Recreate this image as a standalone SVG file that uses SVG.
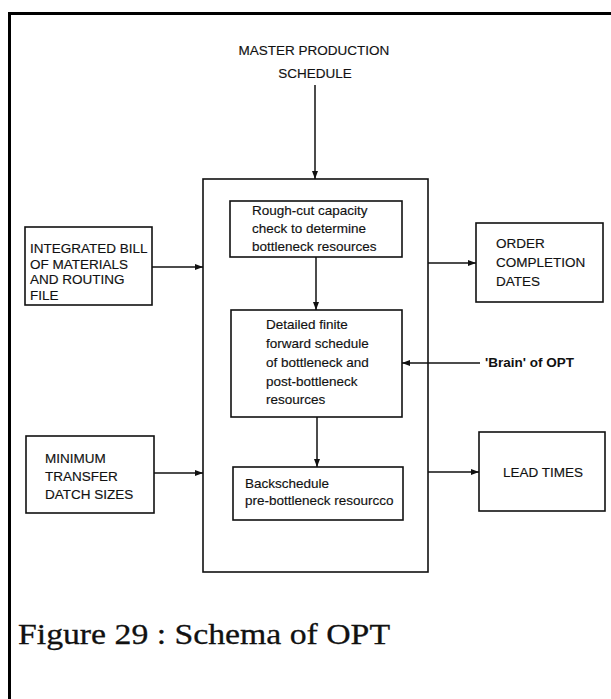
<svg xmlns="http://www.w3.org/2000/svg" width="611" height="699" viewBox="0 0 611 699">
  <style>
    .box { fill: #fff; stroke: #111; stroke-width: 1.6; }
    .frame { fill: none; stroke: #000; stroke-width: 3; }
    .t { font-family: "Liberation Sans", Arial, sans-serif; font-size: 13.5px; fill: #111; stroke: #111; stroke-width: 0.15; }
    .tb { font-family: "Liberation Sans", Arial, sans-serif; font-size: 13.5px; font-weight: bold; fill: #111; }
    .cap { font-family: "Liberation Serif", "Times New Roman", serif; font-size: 30px; fill: #111; stroke: #111; stroke-width: 0.3; }
    .conn line { stroke: #111; stroke-width: 1.5; marker-end: url(#arrow); }
  </style>
  <defs>
    <marker id="arrow" markerUnits="userSpaceOnUse" markerWidth="9" markerHeight="7" refX="8" refY="3" orient="auto">
      <path d="M0,0 L8,3 L0,6 z" fill="#111"/>
    </marker>
  </defs>

  <rect width="611" height="699" fill="#fff"/>

  <!-- page frame -->
  <path class="frame" d="M9.5,699 V13.5 H611"/>

  <!-- MPS label -->
  <g id="mps">
    <text class="t" x="314" y="55" text-anchor="middle">MASTER PRODUCTION</text>
    <text class="t" x="315" y="78" text-anchor="middle">SCHEDULE</text>
  </g>

  <!-- OPT core container -->
  <g id="opt-core">
    <rect class="box" x="203" y="179" width="225" height="393"/>
  </g>

  <g id="rough-cut">
    <rect class="box" x="230" y="201" width="172" height="56"/>
    <text class="t" x="252" y="215">Rough-cut capacity</text>
    <text class="t" x="252" y="233">check to determine</text>
    <text class="t" x="252" y="251">bottleneck resources</text>
  </g>

  <g id="detailed">
    <rect class="box" x="231" y="310" width="171" height="107"/>
    <text class="t" x="266" y="329">Detailed finite</text>
    <text class="t" x="266" y="348">forward schedule</text>
    <text class="t" x="266" y="367">of bottleneck and</text>
    <text class="t" x="266" y="386">post-bottleneck</text>
    <text class="t" x="266" y="404">resources</text>
  </g>

  <g id="backschedule">
    <rect class="box" x="233" y="467" width="170" height="53"/>
    <text class="t" x="245" y="488">Backschedule</text>
    <text class="t" x="245" y="505">pre-bottleneck resourcco</text>
  </g>

  <g id="bom">
    <rect class="box" x="25" y="227" width="127" height="78"/>
    <text class="t" x="30" y="253">INTEGRATED BILL</text>
    <text class="t" x="30" y="268.5">OF MATERIALS</text>
    <text class="t" x="30" y="284">AND ROUTING</text>
    <text class="t" x="30" y="299.5">FILE</text>
  </g>

  <g id="batch">
    <rect class="box" x="26" y="436" width="128" height="77"/>
    <text class="t" x="45" y="463">MINIMUM</text>
    <text class="t" x="45" y="481">TRANSFER</text>
    <text class="t" x="45" y="499">DATCH SIZES</text>
  </g>

  <g id="order-dates">
    <rect class="box" x="476" y="223" width="127" height="79"/>
    <text class="t" x="496" y="248">ORDER</text>
    <text class="t" x="496" y="267">COMPLETION</text>
    <text class="t" x="496" y="286">DATES</text>
  </g>

  <g id="lead-times">
    <rect class="box" x="479" y="432" width="126" height="79"/>
    <text class="t" x="503" y="477">LEAD TIMES</text>
  </g>

  <g id="brain">
    <text class="tb" x="485" y="367">'Brain' of OPT</text>
  </g>

  <!-- connectors -->
  <g class="conn" id="connectors">
    <line x1="315" y1="85" x2="315" y2="179"/>
    <line x1="152" y1="267" x2="203" y2="267"/>
    <line x1="154" y1="473" x2="203" y2="473"/>
    <line x1="316" y1="257" x2="316" y2="310"/>
    <line x1="317" y1="417" x2="317" y2="467"/>
    <line x1="428" y1="263" x2="476" y2="263"/>
    <line x1="428" y1="472" x2="479" y2="472"/>
    <line x1="480" y1="363" x2="402" y2="363"/>
  </g>

  <text class="cap" x="18" y="644" textLength="372" lengthAdjust="spacingAndGlyphs">Figure 29 : Schema of OPT</text>
</svg>
